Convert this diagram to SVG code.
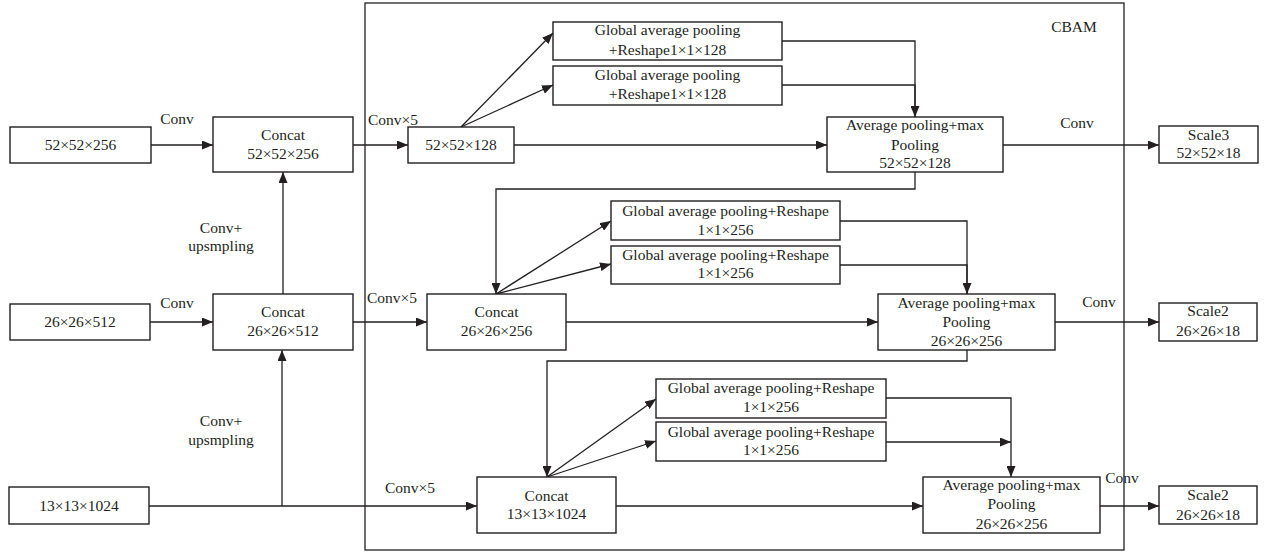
<svg xmlns="http://www.w3.org/2000/svg" width="1266" height="554" viewBox="0 0 1266 554">
<defs>
<marker id="ah" markerUnits="userSpaceOnUse" markerWidth="11" markerHeight="9" refX="11" refY="4.5" orient="auto">
<path d="M0,0 L11,4.5 L0,9 z" fill="#231f20"/>
</marker>
<style>
.b{fill:#fff;stroke:#231f20;stroke-width:1.4}
.c{fill:none;stroke:#231f20;stroke-width:1.3}
.a{marker-end:url(#ah)}
text{font-family:"Liberation Serif","Times New Roman",serif;font-size:15.5px;fill:#231f20;text-anchor:middle}
</style>
</defs>
<rect width="1266" height="554" fill="#fff"/>
<g id="cbam">
<rect x="365" y="3" width="759" height="547" fill="none" stroke="#231f20" stroke-width="1.3"/>
<text x="1074" y="32">CBAM</text>
</g>
<g id="connectors">
<path class="c a" d="M151,145 H213"/>
<path class="c a" d="M353,145 H408"/>
<path class="c a" d="M461,127 L553,33"/>
<path class="c a" d="M461,127 L553,85"/>
<path class="c" d="M782,41 H915 V117"/>
<path class="c a" d="M782,85 H915 V117"/>
<path class="c a" d="M514,145 H827"/>
<path class="c a" d="M1003,145 H1159"/>
<path class="c a" d="M915,172 V189 H496 V294"/>
<path class="c a" d="M283,294 V172"/>
<path class="c a" d="M150,322 H213"/>
<path class="c a" d="M353,322 H427"/>
<path class="c a" d="M496,294 L611,221"/>
<path class="c a" d="M496,294 L611,264"/>
<path class="c" d="M840,221 H967 V294"/>
<path class="c a" d="M840,265 H967 V294"/>
<path class="c a" d="M566,322 H878"/>
<path class="c a" d="M1055,322 H1159"/>
<path class="c a" d="M967,350 V361 H547 V477"/>
<path class="c a" d="M149,506 H477"/>
<path class="c a" d="M282,506 V350"/>
<path class="c a" d="M547,477 L656,399"/>
<path class="c a" d="M547,477 L656,441"/>
<path class="c a" d="M886,398 H1011 V477"/>
<path class="c a" d="M886,442 H1011"/>
<path class="c a" d="M616,506 H923"/>
<path class="c a" d="M1100,506 H1159"/>
<text x="177" y="124">Conv</text>
<text x="393" y="125">Conv×5</text>
<text x="1077" y="128">Conv</text>
<text x="221" y="233">Conv+</text>
<text x="221" y="251">upsmpling</text>
<text x="177" y="308">Conv</text>
<text x="392" y="303">Conv×5</text>
<text x="1099" y="307">Conv</text>
<text x="221" y="426">Conv+</text>
<text x="221" y="445">upsmpling</text>
<text x="410" y="493">Conv×5</text>
<text x="1122" y="483">Conv</text>
</g>
<g id="in1"><rect class="b" x="10" y="127" width="141" height="36"/><text x="80.5" y="150">52×52×256</text></g>
<g id="concat1"><rect class="b" x="213" y="117" width="140" height="55"/><text x="283" y="140">Concat</text><text x="283" y="159">52×52×256</text></g>
<g id="f1"><rect class="b" x="408" y="127" width="106" height="36"/><text x="461" y="150">52×52×128</text></g>
<g id="g1a"><rect class="b" x="553" y="22" width="229" height="38"/><text x="667.5" y="35">Global average pooling</text><text x="667.5" y="55">+Reshape1×1×128</text></g>
<g id="g1b"><rect class="b" x="553" y="66" width="229" height="39"/><text x="667.5" y="80">Global average pooling</text><text x="667.5" y="99">+Reshape1×1×128</text></g>
<g id="avg1"><rect class="b" x="827" y="117" width="176" height="55"/><text x="915" y="130">Average pooling+max</text><text x="915" y="150">Pooling</text><text x="915" y="168">52×52×128</text></g>
<g id="scale3"><rect class="b" x="1159" y="126" width="99" height="37"/><text x="1208.5" y="140">Scale3</text><text x="1208.5" y="158">52×52×18</text></g>
<g id="in2"><rect class="b" x="10" y="304" width="140" height="36"/><text x="80" y="327">26×26×512</text></g>
<g id="concat2"><rect class="b" x="213" y="294" width="140" height="56"/><text x="283" y="317">Concat</text><text x="283" y="336">26×26×512</text></g>
<g id="concat2b"><rect class="b" x="427" y="294" width="139" height="56"/><text x="496.5" y="317">Concat</text><text x="496.5" y="336">26×26×256</text></g>
<g id="g2a"><rect class="b" x="611" y="201" width="229" height="39"/><text x="725.5" y="216">Global average pooling+Reshape</text><text x="725.5" y="235">1×1×256</text></g>
<g id="g2b"><rect class="b" x="611" y="246" width="229" height="38"/><text x="725.5" y="260">Global average pooling+Reshape</text><text x="725.5" y="278">1×1×256</text></g>
<g id="avg2"><rect class="b" x="878" y="294" width="177" height="56"/><text x="966.5" y="308">Average pooling+max</text><text x="966.5" y="327">Pooling</text><text x="966.5" y="346">26×26×256</text></g>
<g id="scale2a"><rect class="b" x="1159" y="303" width="98" height="38"/><text x="1208" y="316">Scale2</text><text x="1208" y="336">26×26×18</text></g>
<g id="in3"><rect class="b" x="9" y="487" width="140" height="37"/><text x="79" y="511">13×13×1024</text></g>
<g id="concat3"><rect class="b" x="477" y="477" width="139" height="56"/><text x="546.5" y="501">Concat</text><text x="546.5" y="519">13×13×1024</text></g>
<g id="g3a"><rect class="b" x="656" y="379" width="230" height="39"/><text x="771" y="393">Global average pooling+Reshape</text><text x="771" y="412">1×1×256</text></g>
<g id="g3b"><rect class="b" x="656" y="422" width="230" height="39"/><text x="771" y="437">Global average pooling+Reshape</text><text x="771" y="455">1×1×256</text></g>
<g id="avg3"><rect class="b" x="923" y="477" width="177" height="56"/><text x="1011.5" y="490">Average pooling+max</text><text x="1011.5" y="509">Pooling</text><text x="1011.5" y="529">26×26×256</text></g>
<g id="scale2b"><rect class="b" x="1159" y="486" width="98" height="38"/><text x="1208" y="500">Scale2</text><text x="1208" y="520">26×26×18</text></g>
</svg>
